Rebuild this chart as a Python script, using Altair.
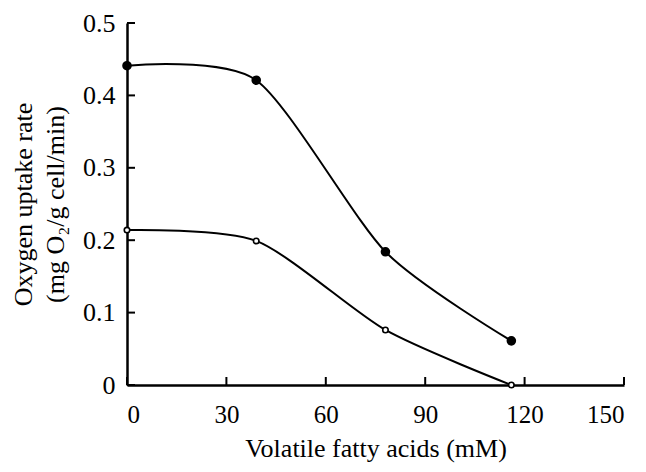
import altair as alt
import pandas as pd

# ---- data ----
vfa = [0, 39, 78, 116]
rate_filled = [0.441, 0.421, 0.184, 0.061]
rate_open = [0.214, 0.199, 0.076, 0.0]
x_ticks = [0, 30, 60, 90, 120, 150]
y_ticks = [0, 0.1, 0.2, 0.3, 0.4, 0.5]
series_names = ["filled", "open"]

df = pd.DataFrame({
    "vfa": vfa + vfa,
    "rate": rate_filled + rate_open,
    "series": [series_names[0]] * len(vfa) + [series_names[1]] * len(vfa),
})
xt = pd.DataFrame({"v": x_ticks})
yt = pd.DataFrame({"v": y_ticks})

FONT = "Liberation Serif"
W, H = 497, 362
TICK = 8

xs = alt.Scale(domain=[0, 150], nice=False, zero=False)
ys = alt.Scale(domain=[0, 0.5], nice=False)

xaxis = alt.Axis(values=x_ticks, format="d", tickSize=0, grid=False,
                 labelPadding=17, labelFont=FONT, labelFontSize=25, labelColor="black",
                 domainColor="black", domainWidth=2.5,
                 title="Volatile fatty acids (mM)", titleFont=FONT, titleFontSize=26,
                 titleFontWeight="normal", titleColor="black", titlePadding=8)
yaxis = alt.Axis(values=y_ticks, tickSize=0, grid=False,
                 labelExpr="datum.value == 0 ? '0' : format(datum.value, '.1f')",
                 labelPadding=12, labelFont=FONT, labelFontSize=26, labelColor="black",
                 domainColor="black", domainWidth=2.5,
                 title=["Oxygen uptake rate", "(mg O\u2082/g cell/min)"],
                 titleFont=FONT, titleFontSize=26, titleFontWeight="normal",
                 titleColor="black", titlePadding=14, titleLineHeight=32)

base = alt.Chart(df)

lines = base.mark_line(interpolate="cardinal", tension=0.25, color="black", strokeWidth=2).encode(
    x=alt.X("vfa:Q", scale=xs, axis=xaxis),
    y=alt.Y("rate:Q", scale=ys, axis=yaxis),
    detail="series:N",
)

points = base.mark_point(shape="circle", filled=True, stroke="black",
                         strokeWidth=1.6, opacity=1).encode(
    x=alt.X("vfa:Q", scale=xs),
    y=alt.Y("rate:Q", scale=ys),
    fill=alt.Fill("series:N", scale=alt.Scale(domain=series_names, range=["black", "white"]), legend=None),
    size=alt.Size("series:N", scale=alt.Scale(domain=series_names, range=[64, 30]), legend=None),
)

xticks = alt.Chart(xt).mark_rule(color="black", strokeWidth=2).encode(
    x=alt.X("v:Q", scale=xs),
    y=alt.value(H),
    y2=alt.value(H - TICK),
)
yticks = alt.Chart(yt).mark_rule(color="black", strokeWidth=2).encode(
    y=alt.Y("v:Q", scale=ys),
    x=alt.value(0),
    x2=alt.value(TICK),
)

chart = alt.layer(xticks, yticks, lines, points).properties(
    width=W, height=H,
    autosize=alt.AutoSizeParams(type="none"),
    padding={"left": 119, "top": 15, "right": 14, "bottom": 79},
    background="white",
).configure_view(stroke=None)

chart.save("out.html", embed_options={"renderer": "svg", "actions": False})
